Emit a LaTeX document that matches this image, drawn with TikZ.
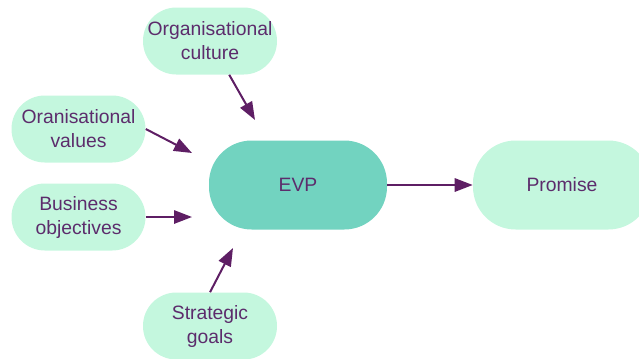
\documentclass[tikz,border=0pt]{standalone}
\usepackage{fontspec}
\setmainfont{Liberation Sans}
\usetikzlibrary{arrows.meta}

\definecolor{mint}{RGB}{196,247,222}
\definecolor{teal}{RGB}{114,211,192}
\definecolor{plum}{RGB}{92,44,108}
\definecolor{arrowplum}{RGB}{94,30,100}

\tikzset{
  factor/.style={fill=mint, rounded corners=25pt, minimum width=100.5pt,
    minimum height=50.25pt, align=center, text=plum,
    font=\fontsize{14.5}{18}\selectfont},
  core/.style={factor, fill=teal, rounded corners=32pt,
    minimum width=133.5pt, minimum height=66.75pt},
  feed/.style={draw=arrowplum, line width=1.5pt,
    -{Triangle[length=13.5pt,width=10pt]}}
}

\begin{document}
\begin{tikzpicture}[x=0.75pt,y=-0.75pt]
    \useasboundingbox (0,0) rectangle (639,358);
    % the boxes
    \node[factor] (culture) at (210,41) {Organisational\\culture};
    \node[factor] (values) at (78.5,129) {Oranisational\\values};
    \node[factor] (business) at (78.5,217) {Business\\objectives};
    \node[factor] (strategic) at (210,326) {Strategic\\goals};
    \node[core] (evp) at (298,185) {EVP};
    \node[factor, minimum width=133.5pt, minimum height=66.75pt,
      rounded corners=32pt] (promise) at (562,185) {Promise};
    % where the inputs stop short of the EVP box
    \coordinate (tipC) at (255,120);
    \coordinate (tipV) at (192,153);
    \coordinate (tipB) at (192,217);
    \coordinate (tipS) at (233,248);
    % arrows
    \draw[feed] (culture) -- (tipC);
    \draw[feed] (values.east) -- (tipV);
    \draw[feed] (business.east) -- (tipB);
    \draw[feed] (strategic.north) -- (tipS);
    \draw[feed] (evp.east) -- (promise.west);
\end{tikzpicture}
\end{document}
